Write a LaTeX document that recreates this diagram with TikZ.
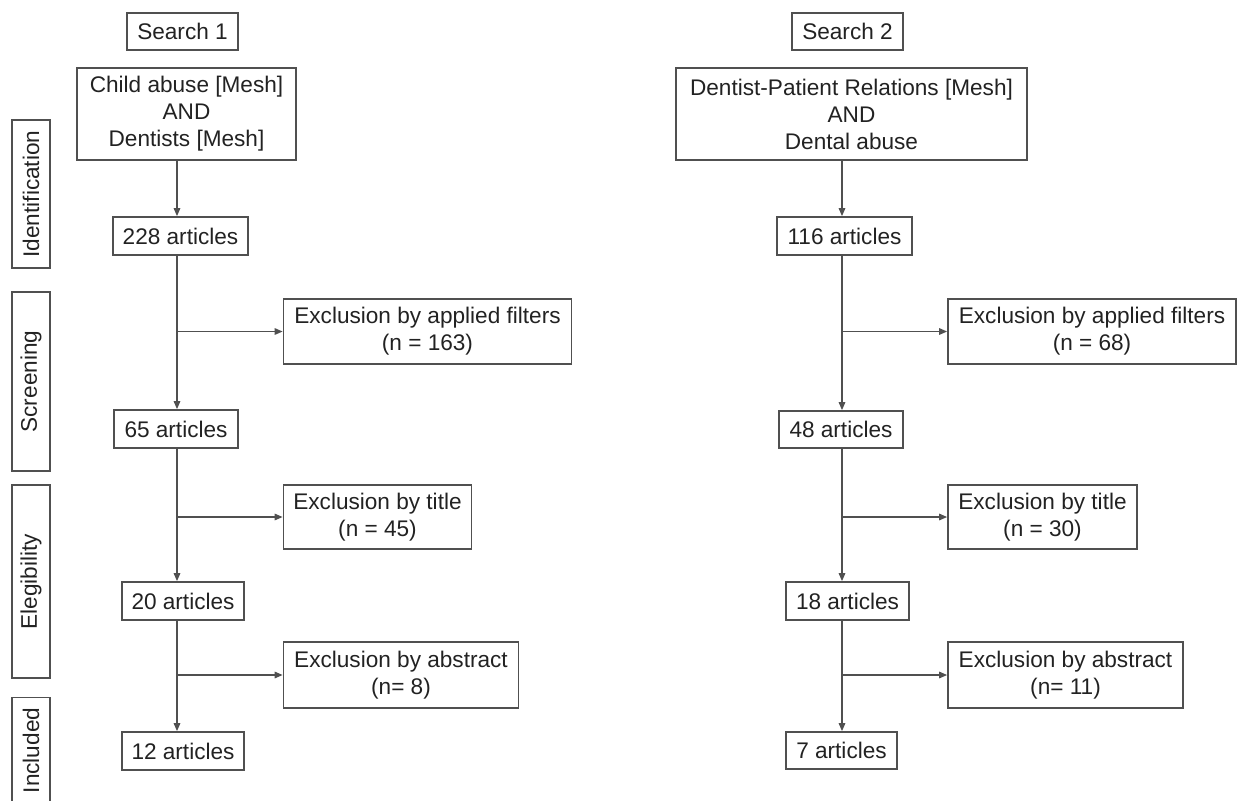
\documentclass[tikz,border=0pt]{standalone}
\usepackage{fontspec}
\setmainfont{Liberation Sans}
\usetikzlibrary{arrows.meta}

\definecolor{linegray}{HTML}{505050}
\definecolor{textgray}{HTML}{222222}

\begin{document}
\begin{tikzpicture}[x=0.5pt, y=-0.5pt,
        box/.style={draw=linegray, line width=0.8pt, text=textgray, align=center, inner sep=0pt,
            font=\fontsize{11.3}{13.5}\selectfont},
        stage/.style={box, rotate=90, minimum height=19pt},
        arr/.style={draw=linegray, line width=0.8pt, -{Triangle[length=4pt,width=3.2pt]}}]
            \useasboundingbox (0,0) rectangle (1238,800);

            % stages
            \node[stage, minimum width=74pt] (st1) at (31, 194) {Identification};
            \node[stage, minimum width=89.5pt] (st2) at (31, 381.5) {Screening};
            \node[stage, minimum width=96.5pt] (st3) at (31, 581.5) {Elegibility};
            \node[stage, minimum width=53pt] (st4) at (31, 750.5) {Included};

            % search 1
            \coordinate (sp1) at (177, 0);
            \node[box, minimum width=55.5pt, minimum height=18.5pt] (s1) at (182.5, 31.5) {Search 1};
            \node[box, minimum width=109.5pt, minimum height=46pt] (q1) at (186.5, 114) {Child abuse [Mesh]\\AND\\Dentists [Mesh]};
            \node[box, minimum width=67.5pt, minimum height=19pt] (a228) at (180.5, 236) {228 articles};
            \node[box, minimum width=144pt, minimum height=32.5pt] (x163) at (427.5, 331.5) {Exclusion by applied filters\\(n = 163)};
            \node[box, minimum width=62pt, minimum height=19pt] (a65) at (176, 429) {65 articles};
            \node[box, minimum width=94pt, minimum height=32pt] (x45) at (377.5, 517) {Exclusion by title\\(n = 45)};
            \node[box, minimum width=61pt, minimum height=19pt] (a20) at (183, 601) {20 articles};
            \node[box, minimum width=117.5pt, minimum height=33pt] (x8) at (401, 675) {Exclusion by abstract\\(n= 8)};
            \node[box, minimum width=61pt, minimum height=19pt] (a12) at (183, 751) {12 articles};

            \draw[arr] (q1.south -| sp1) -- (a228.north -| sp1);
            \draw[arr] (a228.south -| sp1) -- (a65.north -| sp1);
            \draw[arr] (a65.south -| sp1) -- (a20.north -| sp1);
            \draw[arr] (a20.south -| sp1) -- (a12.north -| sp1);
            \draw[arr] (x163.west -| sp1) -- (x163.west);
            \draw[arr] (x45.west -| sp1) -- (x45.west);
            \draw[arr] (x8.west -| sp1) -- (x8.west);

            % search 2
            \coordinate (sp2) at (842, 0);
            \node[box, minimum width=55.5pt, minimum height=18.5pt] (s2) at (847.5, 31.5) {Search 2};
            \node[box, minimum width=175.5pt, minimum height=46pt] (q2) at (851.5, 114) {Dentist-Patient Relations [Mesh]\\AND\\Dental abuse};
            \node[box, minimum width=67.5pt, minimum height=19pt] (a116) at (844.5, 236) {116 articles};
            \node[box, minimum width=144pt, minimum height=32.5pt] (x68) at (1092, 331.5) {Exclusion by applied filters\\(n = 68)};
            \node[box, minimum width=62pt, minimum height=18.5pt] (a48) at (841, 429.5) {48 articles};
            \node[box, minimum width=94.5pt, minimum height=32pt] (x30) at (1042.5, 517) {Exclusion by title\\(n = 30)};
            \node[box, minimum width=61.5pt, minimum height=19pt] (a18) at (847.5, 601) {18 articles};
            \node[box, minimum width=117.5pt, minimum height=33pt] (x11) at (1065.5, 675) {Exclusion by abstract\\(n= 11)};
            \node[box, minimum width=55.5pt, minimum height=18.5pt] (a7) at (841.5, 750.5) {7 articles};

            \draw[arr] (q2.south -| sp2) -- (a116.north -| sp2);
            \draw[arr] (a116.south -| sp2) -- (a48.north -| sp2);
            \draw[arr] (a48.south -| sp2) -- (a18.north -| sp2);
            \draw[arr] (a18.south -| sp2) -- (a7.north -| sp2);
            \draw[arr] (x68.west -| sp2) -- (x68.west);
            \draw[arr] (x30.west -| sp2) -- (x30.west);
            \draw[arr] (x11.west -| sp2) -- (x11.west);

        \end{tikzpicture}
\end{document}
